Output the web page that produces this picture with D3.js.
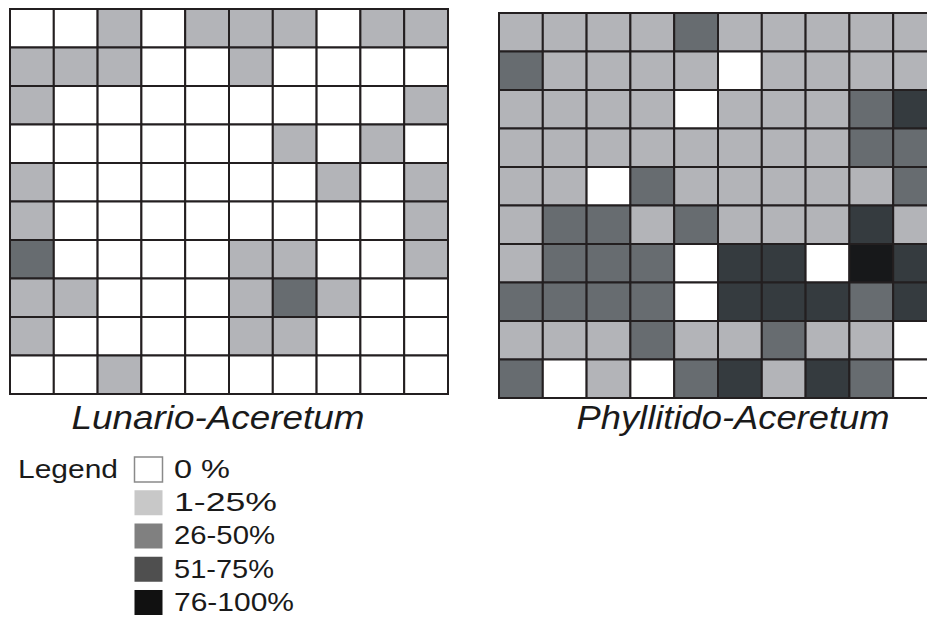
<!DOCTYPE html>
<html>
	<head>
		<meta charset="utf-8">
		<style type="text/css">
			body { margin: 0; background: #fff; }
			text { font-family: "Liberation Sans", Arial, sans-serif; fill: #1a1a1a; }
		</style>
		<title>Cover classes</title>
	</head>
	<body>
		<script src="https://cdn.jsdelivr.net/npm/d3@7"></script>
		<script>

// data /////////////////////////////////////////////////////////////////////

// cover class per cell: 0 = 0 %, 1 = 1-25 %, 2 = 26-50 %, 3 = 51-75 %, 4 = 76-100 %
var lunario = [
	[0,0,1,0,1,1,1,0,1,1],
	[1,1,1,0,0,1,0,0,0,0],
	[1,0,0,0,0,0,0,0,0,1],
	[0,0,0,0,0,0,1,0,1,0],
	[1,0,0,0,0,0,0,1,0,1],
	[1,0,0,0,0,0,0,0,0,1],
	[2,0,0,0,0,1,1,0,0,1],
	[1,1,0,0,0,1,2,1,0,0],
	[1,0,0,0,0,1,1,0,0,0],
	[0,0,1,0,0,0,0,0,0,0],
];

var phyllitido = [
	[1,1,1,1,2,1,1,1,1,1],
	[2,1,1,1,1,0,1,1,1,1],
	[1,1,1,1,0,1,1,1,2,3],
	[1,1,1,1,1,1,1,1,2,2],
	[1,1,0,2,1,1,1,1,1,2],
	[1,2,2,1,2,1,1,1,3,1],
	[1,2,2,2,0,3,3,0,4,3],
	[2,2,2,2,0,3,3,3,2,3],
	[1,1,1,2,1,1,2,1,1,0],
	[2,0,1,0,2,3,1,3,2,0],
];

var titles       = ["Lunario-Aceretum", "Phyllitido-Aceretum"];
var classes      = [0, 1, 2, 3, 4];
var legendLabels = ["0 %", "1-25%", "26-50%", "51-75%", "76-100%"];

// grid and legend colours (the legend swatches are printed a bit lighter)
var cellColors   = ["#ffffff", "#b3b4b8", "#676c70", "#353b3f", "#17181a"];
var swatchColors = ["#ffffff", "#c8c8c8", "#808080", "#4f4f4f", "#111111"];


// setup ////////////////////////////////////////////////////////////////////

var width = 927, height = 617;

var svg = d3.select('body').append('svg')
	.attr('width', width)
	.attr('height', height);

var fill   = d3.scaleOrdinal().domain(classes).range(cellColors);
var swatch = d3.scaleOrdinal().domain(classes).range(swatchColors);

var idx = d3.range(10);

var panels = [
	{rows: lunario,    x0: 10,  y0: 9,  title: titles[0], tx: 218, tw: 293},
	{rows: phyllitido, x0: 499, y0: 13, title: titles[1], tx: 733, tw: 313},
];

var cellW = 43.8, cellH = 38.5;

for (let p of panels) {
	let x = d3.scaleBand().domain(idx).range([p.x0, p.x0 + cellW * 10]);
	let y = d3.scaleBand().domain(idx).range([p.y0, p.y0 + cellH * 10]);

	let cells = p.rows.flatMap((row, r) => row.map((v, c) => ({r, c, v})));

	svg.append('g')
		.selectAll('rect')
		.data(cells)
		.join('rect')
			.attr('x', d => x(d.c))
			.attr('y', d => y(d.r))
			.attr('width', x.bandwidth())
			.attr('height', y.bandwidth())
			.attr('fill', d => fill(d.v))
			.attr('stroke', '#231f20')
			.attr('stroke-width', 2);

	svg.append('text')
		.attr('x', p.tx)
		.attr('y', 429)
		.attr('text-anchor', 'middle')
		.attr('font-size', 33)
		.attr('font-style', 'italic')
		.attr('textLength', p.tw)
		.attr('lengthAdjust', 'spacingAndGlyphs')
		.text(p.title);
}


// legend ///////////////////////////////////////////////////////////////////

var ly = d3.scaleBand().domain(classes).range([457, 615]).paddingInner(0.248);

svg.append('text')
	.attr('x', 18)
	.attr('y', 478)
	.attr('font-size', 26)
	.attr('textLength', 100)
	.attr('lengthAdjust', 'spacingAndGlyphs')
	.text('Legend');

var labelW = [56, 103, 101, 100, 120];

var items = svg.append('g')
	.selectAll('g')
	.data(classes)
	.join('g');

items.append('rect')
	.attr('x', 134.5)
	.attr('y', d => ly(d))
	.attr('width', 28)
	.attr('height', ly.bandwidth())
	.attr('fill', d => swatch(d))
	.attr('stroke', d => d === 0 ? '#8a8a8a' : 'none')
	.attr('stroke-width', 1.5);

items.append('text')
	.attr('x', 174)
	.attr('y', d => ly(d) + 21)
	.attr('font-size', 26.5)
	.attr('textLength', (d, i) => labelW[i])
	.attr('lengthAdjust', 'spacingAndGlyphs')
	.text((d, i) => legendLabels[i]);

		</script>
	</body>
</html>
